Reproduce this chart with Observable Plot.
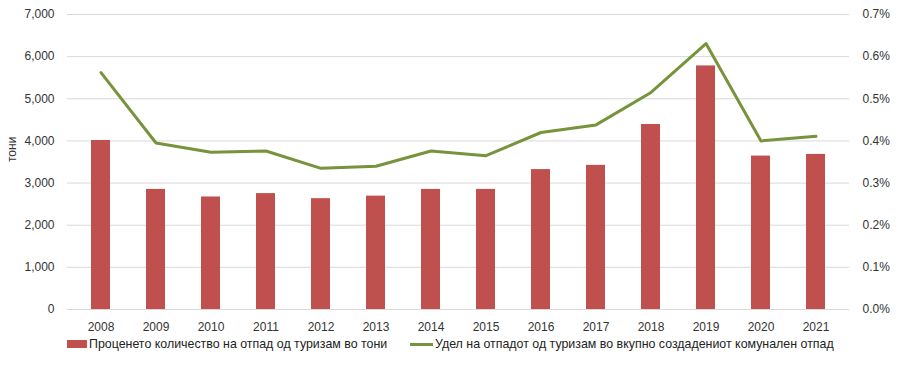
<!DOCTYPE html>
<html>
<head>
<meta charset="utf-8">
<script src="https://cdn.jsdelivr.net/npm/d3@7"></script>
<script src="https://cdn.jsdelivr.net/npm/@observablehq/plot@0.6"></script>
<style>
  html, body { margin: 0; padding: 0; background: #fff; }
  #wrap { position: relative; width: 900px; height: 365px; font-family: "Liberation Sans", Arial, sans-serif; }
  .leg { position: absolute; top: 337px; font-size: 12.4px; color: #222; display: flex; align-items: center; white-space: nowrap; }
  .sw-bar { width: 20px; height: 8px; background: #C0504D; margin-right: 2px; }
  .sw-line { width: 23px; height: 3px; background: #77933C; margin-right: 2px; }
</style>
</head>
<body>
<div id="wrap"></div>
<script>
const years = ["2008","2009","2010","2011","2012","2013","2014","2015","2016","2017","2018","2019","2020","2021"];
const wasteTonnes = [4010, 2850, 2670, 2750, 2630, 2690, 2850, 2850, 3320, 3420, 4390, 5780, 3640, 3680];
const sharePct = [0.562, 0.395, 0.373, 0.376, 0.335, 0.340, 0.376, 0.365, 0.420, 0.438, 0.515, 0.631, 0.400, 0.411];
const leftTicks = [0, 1000, 2000, 3000, 4000, 5000, 6000, 7000];
const rightTicks = [0, 0.1, 0.2, 0.3, 0.4, 0.5, 0.6, 0.7];
const yLabel = "тони";
const barLabel = "Проценето количество на отпад од туризам во тони";
const lineLabel = "Удел на отпадот од туризам во вкупно создадениот комунален отпад";

const pctToY = 10000; // 0.7% maps to 7000
const data = years.map((y, i) => ({year: y, waste: wasteTonnes[i], share: sharePct[i] * pctToY}));

const chart = Plot.plot({
  width: 900,
  height: 335,
  marginLeft: 67,
  marginRight: 51,
  marginTop: 14,
  marginBottom: 26,
  style: {fontFamily: "Liberation Sans, Arial, sans-serif", fontSize: "12px", color: "#333", background: "#fff"},
  x: {domain: years, paddingInner: 0.66, paddingOuter: 0.33, label: null},
  y: {domain: [0, 7000], label: null},
  marks: [
    Plot.gridY(leftTicks, {stroke: "#d9d9d9", strokeOpacity: 1, strokeWidth: 1}),
    Plot.barY(data, {x: "year", y: "waste", fill: "#C0504D"}),
    Plot.lineY(data, {x: "year", y: "share", stroke: "#77933C", strokeWidth: 3, strokeLinejoin: "round"}),
    Plot.axisX({tickSize: 0, tickPadding: 13, label: null, fontSize: 12}),
    Plot.axisY(leftTicks, {anchor: "left", tickSize: 0, tickPadding: 13, tickFormat: d3.format(","), label: null}),
    Plot.axisY(rightTicks.map(v => v * pctToY), {anchor: "right", tickSize: 0, tickPadding: 13, tickFormat: d => (d / pctToY).toFixed(1) + "%", label: null}),
    Plot.text([yLabel], {frameAnchor: "left", dx: -55, rotate: -90, fontSize: 12, fill: "#333", text: d => d})
  ]
});
const wrap = document.getElementById("wrap");
wrap.appendChild(chart);

const l1 = document.createElement("div");
l1.className = "leg"; l1.style.left = "67px";
l1.innerHTML = '<span class="sw-bar"></span><span></span>';
l1.lastChild.textContent = barLabel;
wrap.appendChild(l1);
const l2 = document.createElement("div");
l2.className = "leg"; l2.style.left = "410px";
l2.innerHTML = '<span class="sw-line"></span><span></span>';
l2.lastChild.textContent = lineLabel;
wrap.appendChild(l2);
</script>
</body>
</html>
